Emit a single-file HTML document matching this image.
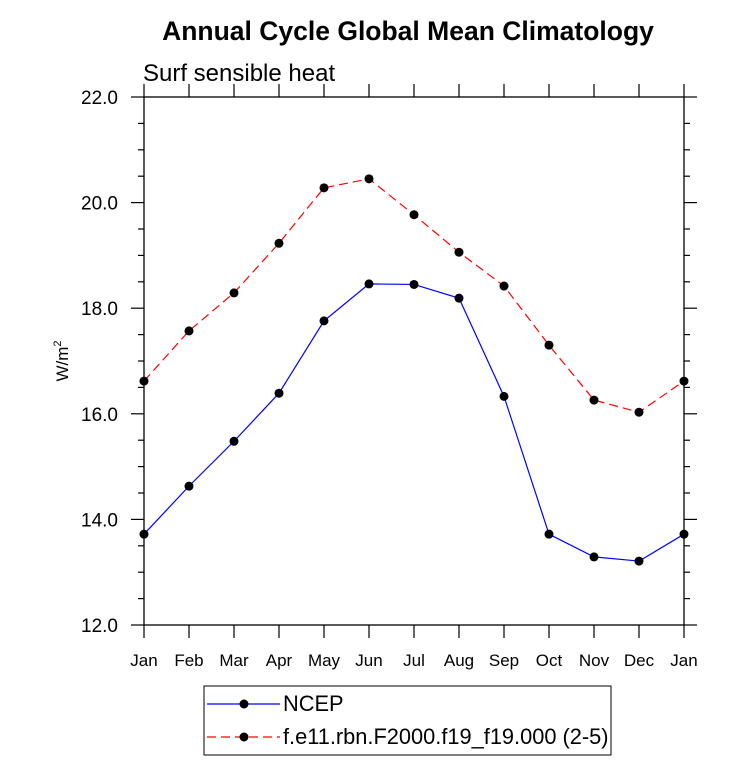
<!DOCTYPE html>
<html><head><meta charset="utf-8"><style>
html,body{margin:0;padding:0;background:#fff;}
svg text{font-family:"Liberation Sans",sans-serif;}
</style></head><body>
<svg id="chart" width="733" height="777" xmlns="http://www.w3.org/2000/svg">
<text x="408" y="40" text-anchor="middle" font-size="26.5" font-weight="bold">Annual Cycle Global Mean Climatology</text>
<text x="143" y="81" font-size="24">Surf sensible heat</text>
<text transform="translate(68,361) rotate(-90)" text-anchor="middle" font-size="17">W/m<tspan dy="-7" font-size="11">2</tspan></text>
<g id="axes"></g>
<g id="series"></g>
<g>
<rect x="204" y="686" width="407" height="69" fill="none" stroke="#000" stroke-width="1"/>
<g>
<line x1="207" y1="704" x2="280" y2="704" stroke="#0000ff" stroke-width="1.2"/>
<circle cx="244" cy="704" r="4.5" fill="#000"/>
<text x="283" y="711" font-size="21.8">NCEP</text></g>
<g>
<line x1="207" y1="737" x2="280" y2="737" stroke="#ff0000" stroke-width="1.2" stroke-dasharray="9,5"/>
<circle cx="244" cy="737" r="4.5" fill="#000"/>
<text x="283" y="744" font-size="21.8">f.e11.rbn.F2000.f19_f19.000 (2-5)</text></g>
</g>
</svg>
<script>
const months = ["Jan","Feb","Mar","Apr","May","Jun","Jul","Aug","Sep","Oct","Nov","Dec","Jan"];
const ncep = [13.72,14.63,15.48,16.39,17.76,18.46,18.45,18.19,16.33,13.72,13.29,13.21,13.72];
const model = [16.62,17.57,18.29,19.23,20.28,20.45,19.77,19.06,18.42,17.30,16.26,16.03,16.62];
const yTicks = [12,14,16,18,20,22];
const yTickLabels = ["12.0","14.0","16.0","18.0","20.0","22.0"];
const NS="http://www.w3.org/2000/svg";
const L=144,R=684,T=97,B=625,ymin=12,ymax=22;
const xs=i=>L+(R-L)*i/(months.length-1);
const ys=v=>B-(v-ymin)/(ymax-ymin)*(B-T);
function mk(tag,attrs,parent){const e=document.createElementNS(NS,tag);for(const k in attrs)e.setAttribute(k,attrs[k]);parent.appendChild(e);return e;}
const ax=document.getElementById('axes');
const frame=mk('rect',{x:L,y:T,width:R-L,height:B-T,fill:'none',stroke:'#000','stroke-width':1.3},ax);


months.forEach((m,i)=>{
  const x=xs(i);
  mk('line',{x1:x,y1:B,x2:x,y2:B+13,stroke:'#000','stroke-width':1.2},ax);
  mk('line',{x1:x,y1:T,x2:x,y2:T-13,stroke:'#000','stroke-width':1.2},ax);
  const t=mk('text',{x:x,y:B+41,'text-anchor':'middle','font-size':17},ax);
  t.textContent=m;
  
  
});
for(let v=ymin;v<=ymax+1e-9;v+=0.5){
  const y=ys(v);const major=Math.abs(v-Math.round(v/2)*2)<1e-9;const len=major?13:6;
  mk('line',{x1:L,y1:y,x2:L-len,y2:y,stroke:'#000','stroke-width':1.2},ax);
  mk('line',{x1:R,y1:y,x2:R+len,y2:y,stroke:'#000','stroke-width':1.2},ax);
}
yTicks.forEach((v,i)=>{
  const t=mk('text',{x:L-26,y:ys(v)+7,'text-anchor':'end','font-size':19},ax);
  t.textContent=yTickLabels[i];
  
  
});
const sg=document.getElementById('series');
function draw(vals,color,dash,name){
  const g=mk('g',{},sg);
  
  
  const pts=vals.map((v,i)=>xs(i)+','+ys(v)).join(' ');
  const a={points:pts,fill:'none',stroke:color,'stroke-width':1.2};
  if(dash)a['stroke-dasharray']=dash;
  mk('polyline',a,g);
  vals.forEach((v,i)=>{const c=mk('circle',{cx:xs(i),cy:ys(v),r:4.5,fill:'#000'},g);
    
    });
}
draw(model,'#ff0000','9,5','model-series');
draw(ncep,'#0000ff',null,'ncep-series');
</script>
</body></html>
